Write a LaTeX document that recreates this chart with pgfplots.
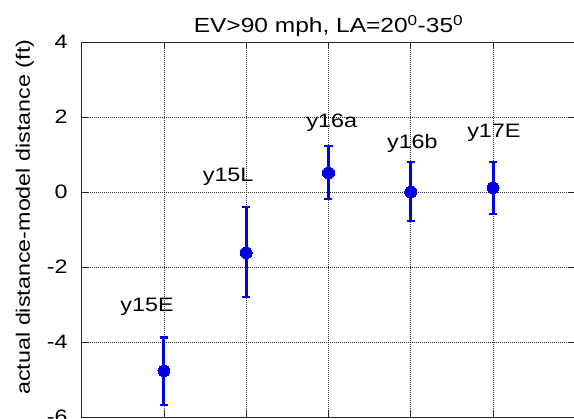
\documentclass[border=0pt]{standalone}
\usepackage{fontspec}
\setmainfont{Liberation Sans}[FakeStretch=1.2]
\usepackage{pgfplots}
\pgfplotsset{compat=1.18}
\definecolor{mblue}{RGB}{0,0,230}
\begin{document}
\begin{tikzpicture}
\begin{axis}[
  name=ax,
  scale only axis,
  width=493.5bp, height=375bp,
  xmin=0, xmax=6, ymin=-6, ymax=4,
  xtick={1,2,3,4,5}, xticklabels={},
  ytick={-6,-4,-2,0,2,4},
  tick align=inside,
  major tick length=7bp,
  grid=major,
  major grid style={black!80, line width=0.6bp, dash pattern=on 1bp off 1bp},
  axis line style={black!85, line width=0.9bp},
  tick style={black!85, line width=0.9bp},
  /pgf/number format/assume math mode=true,
  yticklabel style={font=\fontsize{19.5}{20}\selectfont, anchor=east, inner sep=0pt, xshift=-14bp},
  ylabel={actual distance-model distance (ft)},
  every axis y label/.style={at={(axis description cs:-0.1155,0.533)}, rotate=90, anchor=center, font=\fontsize{19.5}{20}\selectfont},
  title={EV>90 mph, LA=20\textsuperscript{0}-35\textsuperscript{0}},
  every axis title/.style={at={(axis description cs:0.5,1)}, anchor=base, yshift=9bp, font=\fontsize{20.5}{21}\selectfont},
  clip=false,
]
\addplot[mblue, only marks, mark=*, mark size=6bp,
  mark options={fill=mblue, draw=mblue, line width=0pt},
  error bars/.cd, y dir=both, y explicit,
  error bar style={line width=3bp, mblue},
  error mark options={rotate=90, mark size=4bp, line width=2.2bp, mblue}]
coordinates {
  (1,-4.77) += (0,0.89) -= (0,0.92)
  (2,-1.62) += (0,1.21) -= (0,1.17)
  (3,0.51)  += (0,0.72) -= (0,0.70)
  (4,0.00)  += (0,0.81) -= (0,0.78)
  (5,0.11)  += (0,0.70) -= (0,0.69)
};
\node[anchor=base, font=\fontsize{19.5}{20}\selectfont] at (axis cs:0.794,-3.2) {y15E};
\node[anchor=base, font=\fontsize{19.5}{20}\selectfont] at (axis cs:1.78,0.27) {y15L};
\node[anchor=base, font=\fontsize{19.5}{20}\selectfont] at (axis cs:3.04,1.73) {y16a};
\node[anchor=base, font=\fontsize{19.5}{20}\selectfont] at (axis cs:4.02,1.17) {y16b};
\node[anchor=base, font=\fontsize{19.5}{20}\selectfont] at (axis cs:5.01,1.44) {y17E};
\end{axis}
\pgfresetboundingbox
\path[use as bounding box] (ax.south west) ++(-81.75bp,-2bp) rectangle ++(574bp,419bp);
\end{tikzpicture}
\end{document}
